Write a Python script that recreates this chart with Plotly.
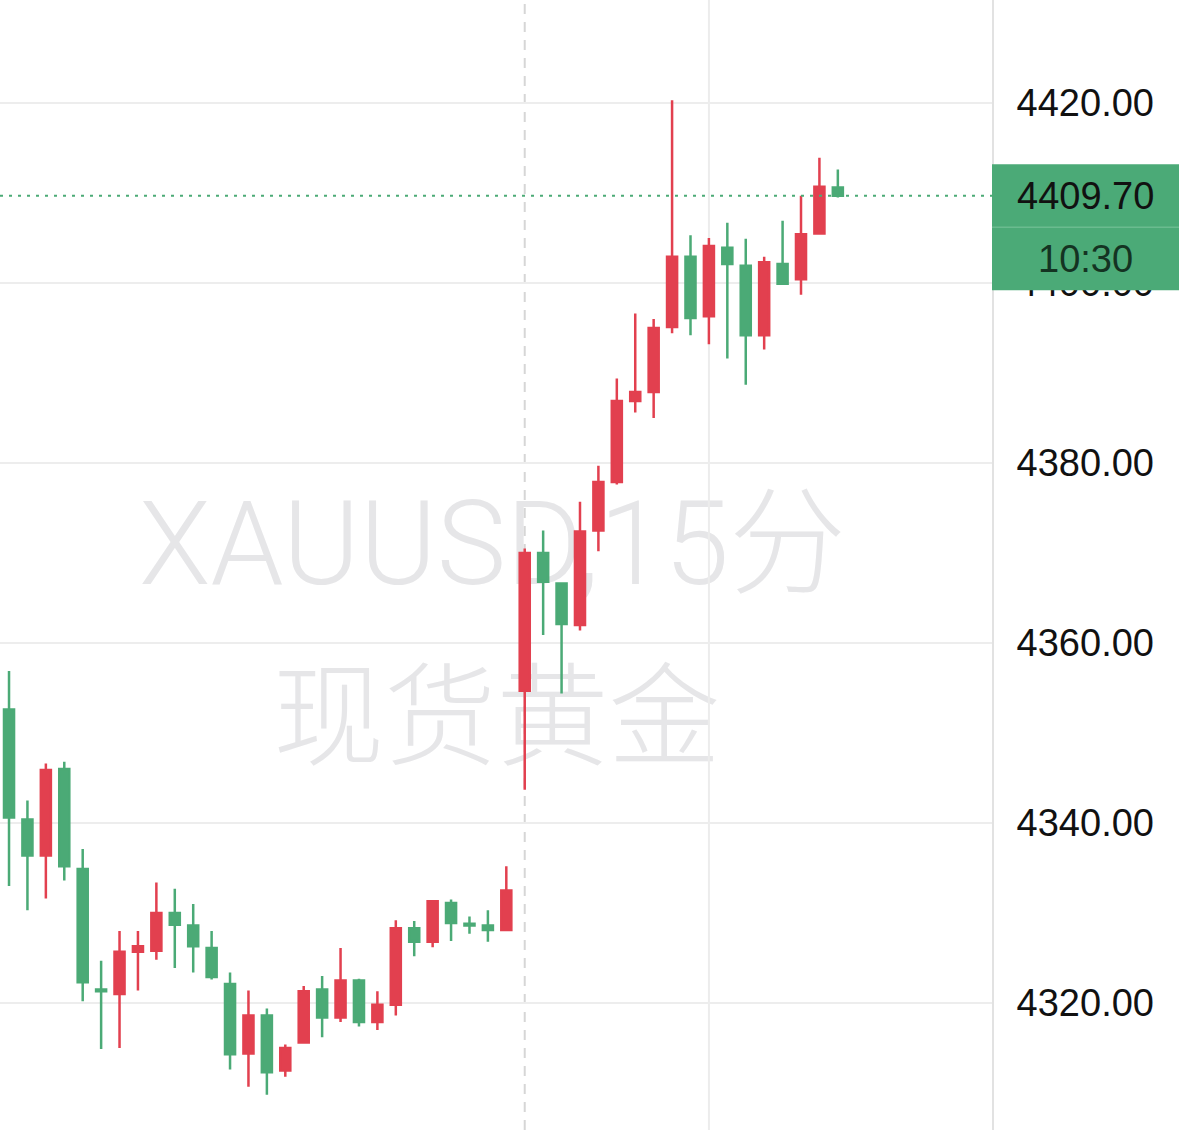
import plotly.graph_objects as go

# ---- data (15-minute XAUUSD candles) ----
opens  = [4352.6, 4340.4, 4336.4, 4346.0, 4334.9, 4321.5, 4321.0, 4325.7, 4325.8, 4330.0,
          4328.6, 4326.1, 4322.1, 4314.4, 4318.6, 4312.5, 4315.6, 4321.5, 4318.4, 4322.5,
          4317.9, 4319.8, 4328.3, 4326.8, 4331.1, 4328.8, 4328.6, 4328.1, 4354.7, 4370.0,
          4366.6, 4362.0, 4372.5, 4377.9, 4386.9, 4387.9, 4395.1, 4402.9, 4396.3, 4403.9,
          4401.9, 4394.2, 4402.1, 4400.4, 4405.5, 4410.6]
highs  = [4356.9, 4342.5, 4346.6, 4346.8, 4337.1, 4324.7, 4328.0, 4328.0, 4333.4, 4332.7,
          4331.0, 4328.0, 4323.4, 4321.4, 4319.4, 4315.4, 4321.9, 4323.0, 4326.1, 4322.7,
          4321.3, 4329.2, 4329.1, 4331.3, 4331.5, 4329.6, 4330.3, 4335.2, 4370.5, 4372.5,
          4366.7, 4375.7, 4379.7, 4389.4, 4396.6, 4396.0, 4420.3, 4405.3, 4405.0, 4406.7,
          4404.9, 4402.9, 4406.9, 4409.7, 4413.9, 4412.6]
lows   = [4333.0, 4330.3, 4331.6, 4333.6, 4320.2, 4314.9, 4315.0, 4321.4, 4324.8, 4323.9,
          4323.4, 4322.6, 4312.6, 4310.7, 4309.8, 4311.8, 4315.5, 4316.2, 4317.9, 4317.4,
          4317.0, 4318.6, 4325.2, 4326.2, 4326.9, 4327.7, 4326.8, 4328.0, 4343.7, 4360.9,
          4354.4, 4361.4, 4370.2, 4377.6, 4385.6, 4385.0, 4394.4, 4394.2, 4393.2, 4391.6,
          4388.7, 4392.6, 4399.8, 4398.7, 4405.4, 4409.5]
closes = [4340.6, 4336.4, 4345.9, 4335.2, 4322.3, 4321.3, 4325.7, 4326.3, 4330.0, 4328.7,
          4326.3, 4322.9, 4314.3, 4318.6, 4312.3, 4315.0, 4321.3, 4318.4, 4322.5, 4317.9,
          4319.8, 4328.3, 4326.8, 4331.3, 4328.9, 4328.6, 4328.1, 4332.5, 4370.0, 4366.8,
          4362.1, 4372.4, 4377.9, 4386.9, 4387.9, 4395.0, 4402.9, 4396.1, 4404.1, 4402.1,
          4394.2, 4402.3, 4399.9, 4405.4, 4410.7, 4409.7]

tick_values = [4320, 4340, 4360, 4380, 4400, 4420]
tick_labels = [f"{v:.2f}" for v in tick_values]
session_break_index = 28
grid_index = 38
last_time = "10:30"
watermark_line1 = "XAUUSD,15分"
watermark_line2 = "现货黄金"

RED = "#E2404F"
GREEN = "#4BAA76"
LABEL_FONT = "Liberation Sans"
WM_FONT = "Roboto, Noto Sans CJK SC"

x = list(range(len(opens)))
last_close = closes[-1]

fig = go.Figure()

fig.add_trace(go.Candlestick(
    x=x, open=opens, high=highs, low=lows, close=closes,
    increasing=dict(line=dict(color=RED, width=2.5), fillcolor=RED),
    decreasing=dict(line=dict(color=GREEN, width=2.5), fillcolor=GREEN),
    whiskerwidth=0, hoverinfo="skip", showlegend=False,
))


def watermark(cx, cy, text, size):
    return dict(type="rect", xref="paper", yref="paper",
                x0=cx - 0.45, x1=cx + 0.45, y0=cy - 0.06, y1=cy + 0.06,
                line=dict(width=0), fillcolor="rgba(0,0,0,0)", layer="below",
                label=dict(text=text, textposition="middle center",
                           font=dict(family=WM_FONT, size=size, color="#e6e6e8",
                                     weight=300)))


shapes = [
    watermark(0.4965, 0.5257, watermark_line1, 117),
    watermark(0.5005, 0.3714, watermark_line2, 112),
    dict(type="line", xref="x", yref="paper", x0=session_break_index, x1=session_break_index,
         y0=0, y1=1, line=dict(color="#d6d6d6", width=2, dash="10px,8px"), layer="below"),
    dict(type="line", xref="x", yref="paper", x0=grid_index, x1=grid_index,
         y0=0, y1=1, line=dict(color="#ececec", width=2), layer="below"),
    dict(type="line", xref="paper", yref="y", x0=0, x1=1, y0=last_close, y1=last_close,
         line=dict(color=GREEN, width=2, dash="3px,6px"), layer="above"),
    # price / time tag on the right axis
    dict(type="rect", xref="paper", yref="y", x0=1.0, x1=1.19,
         y0=last_close - 10.5, y1=last_close + 3.5,
         line=dict(width=0), fillcolor="#4BAA77", layer="above"),
    dict(type="line", xref="paper", yref="y", x0=1.0, x1=1.19,
         y0=last_close - 3.5, y1=last_close - 3.5,
         line=dict(color="#7cc49d", width=1), layer="above"),
]

annotations = [
    dict(xref="paper", yref="y", x=1.0943, y=last_close, text=f"{last_close:.2f}",
         showarrow=False, xanchor="center", yanchor="middle",
         font=dict(family=LABEL_FONT, size=38, color="#111111")),
    dict(xref="paper", yref="y", x=1.0943, y=last_close - 7, text=last_time,
         showarrow=False, xanchor="center", yanchor="middle",
         font=dict(family=LABEL_FONT, size=38, color="#143322")),
]

fig.update_layout(
    width=1179, height=1130,
    margin=dict(l=0, r=187, t=0, b=0),
    paper_bgcolor="white", plot_bgcolor="white",
    boxgap=0.22,
    shapes=shapes, annotations=annotations,
    xaxis=dict(range=[-0.49, 53.37], showgrid=False, zeroline=False,
               showticklabels=False, ticks="", rangeslider=dict(visible=False),
               showline=False, fixedrange=True),
    yaxis=dict(side="right", range=[4305.89, 4431.44], tickvals=tick_values,
               ticktext=tick_labels, showgrid=True, gridcolor="#ededed", gridwidth=2,
               zeroline=False, showline=True, linecolor="#e2e2e2", linewidth=2,
               ticks="", ticklabelstandoff=15,
               tickfont=dict(family=LABEL_FONT, size=38, color="#111111"),
               fixedrange=True),
    showlegend=False,
)

fig.write_html("out.html", config={"displayModeBar": False},
               post_script="document.body.style.margin='0';")
